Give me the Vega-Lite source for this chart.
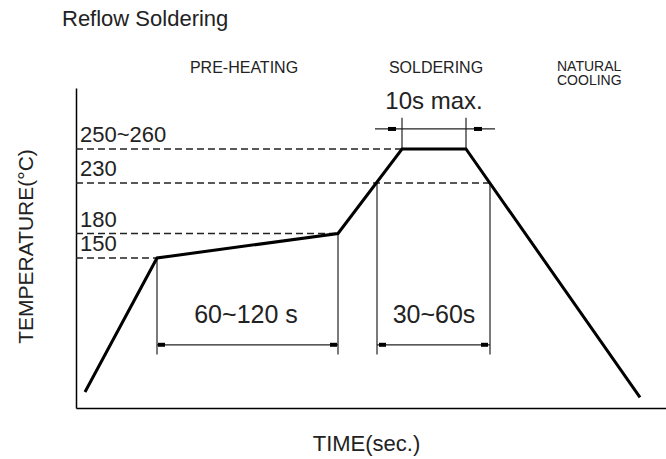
{
  "$schema": "https://vega.github.io/schema/vega-lite/v6.json",
  "width": 590,
  "height": 320,
  "autosize": {"type": "none"},
  "padding": {"left": 76, "top": 88, "right": 0, "bottom": 51},
  "background": "white",
  "title": {"text": "Reflow Soldering", "anchor": "start", "frame": "group", "baseline": "alphabetic", "offset": 12, "dx": -14, "fontSize": 22, "fontWeight": "normal", "font": "Liberation Sans", "color": "#222"},
  "config": {"view": {"stroke": null}},
  "datasets": {
    "curve": [
      {"t": 4.5, "temp": 25},
      {"t": 40.5, "temp": 150},
      {"t": 131, "temp": 180},
      {"t": 163, "temp": 255},
      {"t": 195, "temp": 255},
      {"t": 282, "temp": 20}
    ],
    "levels": [
      {"temp": 255, "t_start": 0, "t_end": 163, "label": "250~260"},
      {"temp": 230, "t_start": 0, "t_end": 207, "label": "230"},
      {"temp": 180, "t_start": 0, "t_end": 131, "label": "180"},
      {"temp": 150, "t_start": 0, "t_end": 40.5, "label": "150"}
    ],
    "extension": [
      {"t": 40.5, "top": 150, "bottom": 60},
      {"t": 131, "top": 180, "bottom": 60},
      {"t": 150.5, "top": 230, "bottom": 60},
      {"t": 207, "top": 230, "bottom": 60},
      {"t": 163, "top": 273, "bottom": 255},
      {"t": 195, "top": 273, "bottom": 255}
    ],
    "dimension": [
      {"t0": 40.5, "t1": 131, "temp": 69},
      {"t0": 150.5, "t1": 207, "temp": 69},
      {"t0": 149.5, "t1": 209.5, "temp": 266.5}
    ],
    "arrowheads": [
      {"t0": 41, "t1": 44.5, "temp": 69},
      {"t0": 127, "t1": 130.5, "temp": 69},
      {"t0": 151.5, "t1": 155, "temp": 69},
      {"t0": 202.5, "t1": 206, "temp": 69},
      {"t0": 156, "t1": 160, "temp": 266.5},
      {"t0": 199, "t1": 203, "temp": 266.5}
    ],
    "spanLabels": [
      {"t": 85, "temp": 69, "label": "60~120 s"},
      {"t": 179, "temp": 69, "label": "30~60s"}
    ],
    "peakLabel": [
      {"t": 179, "temp": 266.5, "label": "10s max."}
    ],
    "zones": [
      {"t": 84, "temp": 298.6, "label": ["PRE-HEATING"]},
      {"t": 180, "temp": 298.6, "label": ["SOLDERING"]}
    ],
    "cooling": [
      {"t": 240.5, "temp": 299.8, "label": ["NATURAL", "COOLING"]}
    ]
  },
  "layer": [
    {
      "data": {"name": "levels"},
      "mark": {"type": "rule", "strokeDash": [7, 4], "strokeWidth": 1.5, "color": "#222"},
      "encoding": {
        "x": {"field": "t_start", "type": "quantitative", "scale": {"domain": [0, 295], "nice": false, "zero": false},
          "axis": {"title": "TIME(sec.)", "ticks": false, "labels": false, "grid": false, "domainColor": "#000", "domainWidth": 1.5,
            "titleFont": "Liberation Sans", "titleFontSize": 22, "titleFontWeight": "normal", "titleColor": "#222",
            "titleX": 290, "titleY": 42, "titleBaseline": "alphabetic"}},
        "x2": {"field": "t_end"},
        "y": {"field": "temp", "type": "quantitative",
          "scale": {"domain": [10, 150, 180, 230, 255, 290], "range": [320, 170, 145.5, 95, 61, 0], "nice": false, "zero": false},
          "axis": {"title": "TEMPERATURE(°C)", "ticks": false, "labels": false, "grid": false, "domainColor": "#000", "domainWidth": 1.5,
            "titleFont": "Liberation Sans", "titleFontSize": 21, "titleFontWeight": "normal", "titleColor": "#222",
            "titleX": -44, "titleY": 158, "titleAngle": 270, "titleBaseline": "alphabetic"}}
      }
    },
    {
      "data": {"name": "levels"},
      "mark": {"type": "text", "align": "left", "baseline": "alphabetic", "dx": 4, "dy": -7, "font": "Liberation Sans", "fontSize": 22, "color": "#222"},
      "encoding": {
        "x": {"field": "t_start", "type": "quantitative"},
        "y": {"field": "temp", "type": "quantitative"},
        "text": {"field": "label"}
      }
    },
    {
      "data": {"name": "extension"},
      "mark": {"type": "rule", "strokeWidth": 1.2, "color": "#222"},
      "encoding": {
        "x": {"field": "t", "type": "quantitative"},
        "y": {"field": "top", "type": "quantitative"},
        "y2": {"field": "bottom"}
      }
    },
    {
      "data": {"name": "dimension"},
      "mark": {"type": "rule", "strokeWidth": 1.2, "color": "#222"},
      "encoding": {
        "x": {"field": "t0", "type": "quantitative"},
        "x2": {"field": "t1"},
        "y": {"field": "temp", "type": "quantitative"}
      }
    },
    {
      "data": {"name": "arrowheads"},
      "mark": {"type": "rule", "strokeWidth": 4, "color": "#000"},
      "encoding": {
        "x": {"field": "t0", "type": "quantitative"},
        "x2": {"field": "t1"},
        "y": {"field": "temp", "type": "quantitative"}
      }
    },
    {
      "data": {"name": "curve"},
      "mark": {"type": "line", "strokeWidth": 3, "color": "#000", "strokeJoin": "miter"},
      "encoding": {
        "x": {"field": "t", "type": "quantitative"},
        "y": {"field": "temp", "type": "quantitative"}
      }
    },
    {
      "data": {"name": "spanLabels"},
      "mark": {"type": "text", "align": "center", "baseline": "alphabetic", "dy": -22, "font": "Liberation Sans", "fontSize": 25, "color": "#222"},
      "encoding": {
        "x": {"field": "t", "type": "quantitative"},
        "y": {"field": "temp", "type": "quantitative"},
        "text": {"field": "label"}
      }
    },
    {
      "data": {"name": "peakLabel"},
      "mark": {"type": "text", "align": "center", "baseline": "alphabetic", "dy": -20, "font": "Liberation Sans", "fontSize": 24, "color": "#222"},
      "encoding": {
        "x": {"field": "t", "type": "quantitative"},
        "y": {"field": "temp", "type": "quantitative"},
        "text": {"field": "label"}
      }
    },
    {
      "data": {"name": "zones"},
      "mark": {"type": "text", "align": "center", "baseline": "alphabetic", "font": "Liberation Sans", "fontSize": 16, "color": "#222"},
      "encoding": {
        "x": {"field": "t", "type": "quantitative"},
        "y": {"field": "temp", "type": "quantitative"},
        "text": {"field": "label"}
      }
    },
    {
      "data": {"name": "cooling"},
      "mark": {"type": "text", "align": "left", "baseline": "alphabetic", "lineHeight": 14.5, "font": "Liberation Sans", "fontSize": 14, "color": "#222"},
      "encoding": {
        "x": {"field": "t", "type": "quantitative"},
        "y": {"field": "temp", "type": "quantitative"},
        "text": {"field": "label"}
      }
    }
  ]
}
